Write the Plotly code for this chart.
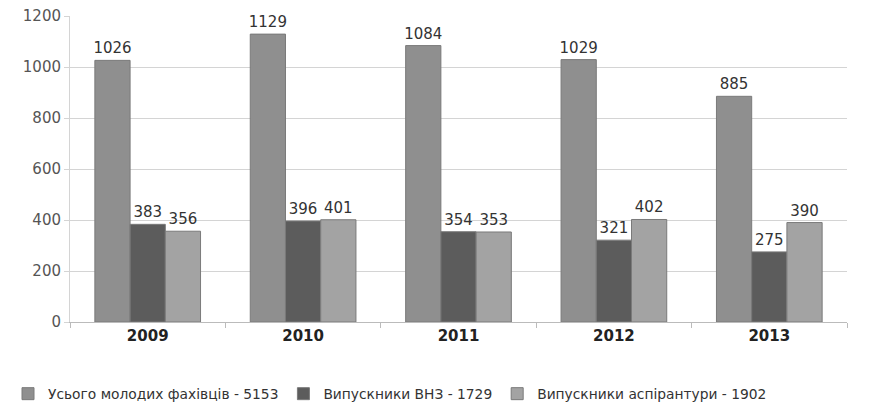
import plotly.graph_objects as go

years = ["2009", "2010", "2011", "2012", "2013"]
total = [1026, 1129, 1084, 1029, 885]
grads = [383, 396, 354, 321, 275]
postgrads = [356, 401, 353, 402, 390]
names = ["Усього молодих фахівців - 5153", "Випускники ВНЗ - 1729", "Випускники аспірантури - 1902"]
colors = ["#8f8f8f", "#5c5c5c", "#a3a3a3"]

fig = go.Figure()
for vals, name, c in zip([total, grads, postgrads], names, colors):
    fig.add_trace(go.Bar(
        x=years, y=vals, name=name, marker=dict(color=c, line=dict(color="#7a7a7a", width=1)),
        text=[str(v) for v in vals], textposition="outside", cliponaxis=False,
        constraintext="none",
        textfont=dict(family="DejaVu Sans", size=15, color="#333333"),
    ))

fig.update_layout(
    width=879, height=406, barmode="group", bargap=0.32, bargroupgap=0,
    plot_bgcolor="white", paper_bgcolor="white",
    margin=dict(l=62, r=40, t=8, b=92, autoexpand=False),
    font=dict(family="DejaVu Sans", color="#444444"),
    legend=dict(orientation="h", xref="container", yref="container", x=0.0, y=0.05,
                xanchor="left", yanchor="middle",
                font=dict(family="DejaVu Sans", size=13.8, color="#333333"),
                itemwidth=30, traceorder="normal", tracegroupgap=0),
    showlegend=True,
)
fig.update_yaxes(range=[0, 1200], dtick=200, showgrid=True, gridcolor="#d4d4d4",
                 showline=True, linecolor="#d4d4d4", ticks="outside", ticklen=5, tickcolor="#d4d4d4",
                 ticklabeloverflow="allow",
                 tickfont=dict(family="DejaVu Sans", size=15, color="#555555"), zeroline=False)
fig.update_xaxes(showline=True, linecolor="#bbbbbb", ticks="outside", tickson="boundaries",
                 ticklen=5, tickcolor="#bbbbbb",
                 tickfont=dict(family="DejaVu Sans", size=15, color="#222222", weight="bold"))

fig.write_html("out.html")
